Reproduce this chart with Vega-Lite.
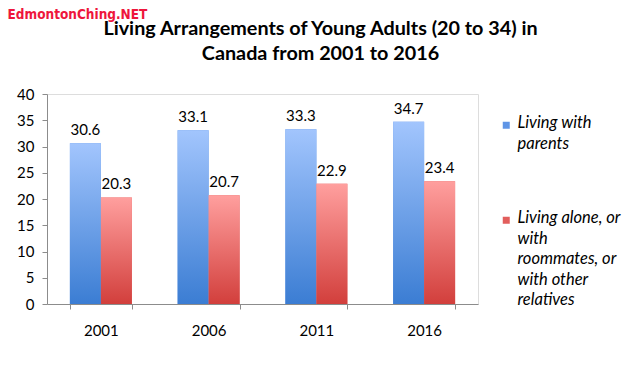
{
  "$schema": "https://vega.github.io/schema/vega-lite/v6.json",
  "width": 431,
  "height": 210,
  "autosize": {"type": "none"},
  "padding": {"left": 47, "top": 94, "right": 162, "bottom": 68},
  "background": "white",
  "title": {
    "text": ["Living Arrangements of Young Adults (20 to 34) in", "Canada from 2001 to 2016"],
    "font": "Lato",
    "fontSize": 19.8,
    "fontWeight": "bold",
    "color": "#000000",
    "anchor": "middle",
    "frame": "group",
    "dx": 58,
    "offset": -57,
    "lineHeight": 25
  },
  "data": {
    "values": [
      {"year": "2001", "series": "parents", "value": 30.6},
      {"year": "2001", "series": "alone", "value": 20.3},
      {"year": "2006", "series": "parents", "value": 33.1},
      {"year": "2006", "series": "alone", "value": 20.7},
      {"year": "2011", "series": "parents", "value": 33.3},
      {"year": "2011", "series": "alone", "value": 22.9},
      {"year": "2016", "series": "parents", "value": 34.7},
      {"year": "2016", "series": "alone", "value": 23.4}
    ]
  },
  "encoding": {
    "x": {
      "field": "year",
      "type": "nominal",
      "scale": {"paddingInner": 0.425, "paddingOuter": 0.2125},
      "axis": {
        "title": null,
        "labelAngle": 0,
        "tickBand": "extent",
        "tickSize": 5,
        "labelPadding": 14,
        "domainColor": "#8c8c8c",
        "tickColor": "#8c8c8c",
        "labelColor": "#000000",
        "labelFont": "Lato",
        "labelFontSize": 15
      }
    },
    "xOffset": {"field": "series", "type": "nominal", "sort": ["parents", "alone"], "scale": {"domain": ["parents", "alone"], "paddingInner": 0}},
    "y": {
      "field": "value",
      "type": "quantitative",
      "scale": {"domain": [0, 40]},
      "axis": {
        "values": [0, 5, 10, 15, 20, 25, 30, 35, 40],
        "grid": false,
        "tickSize": 5,
        "labelPadding": 8,
        "domainColor": "#8c8c8c",
        "tickColor": "#8c8c8c",
        "labelColor": "#000000",
        "labelFont": "Lato",
        "labelFontSize": 15,
        "title": "EdmontonChing.NET",
        "titleAngle": 0,
        "titleX": -40,
        "titleY": -76,
        "titleAlign": "left",
        "titleBaseline": "alphabetic",
        "titleColor": "#ee163c",
        "titleFont": "DejaVu Sans Condensed",
        "titleFontWeight": "bold",
        "titleFontSize": 13.5
      }
    }
  },
  "layer": [
    {
      "mark": {"type": "bar"},
      "encoding": {
        "color": {
          "field": "series",
          "type": "nominal",
          "scale": {"domain": ["parents", "alone"], "range": ["#5f95e6", "#e25e5c"]},
          "legend": {
            "title": null,
            "orient": "none",
            "legendX": 451,
            "legendY": 23,
            "padding": 0,
            "symbolType": "square",
            "symbolSize": 49,
            "symbolStrokeWidth": 0,
            "labelOffset": 3,
            "labelFont": "Lato",
            "labelFontStyle": "italic",
            "labelFontSize": 16.5,
            "labelColor": "#000000",
            "labelLimit": 200,
            "labelBaseline": "top",
            "rowPadding": 57,
            "labelExpr": "datum.value == 'parents' ? ['Living with', 'parents'] : ['Living alone, or', 'with', 'roommates, or', 'with other', 'relatives']",
            "encode": {
              "labels": {"update": {"lineHeight": {"value": 20.5}, "dy": {"value": -10}}}
            }
          }
        }
      }
    },
    {
      "transform": [{"filter": "datum.series == 'parents'"}],
      "mark": {
        "type": "bar",
        "color": {
          "gradient": "linear",
          "x1": 0, "y1": 0, "x2": 0, "y2": 1,
          "stops": [{"offset": 0, "color": "#a2c5fd"}, {"offset": 1, "color": "#3b7dd3"}]
        }
      }
    },
    {
      "transform": [{"filter": "datum.series == 'alone'"}],
      "mark": {
        "type": "bar",
        "color": {
          "gradient": "linear",
          "x1": 0, "y1": 0, "x2": 0, "y2": 1,
          "stops": [{"offset": 0, "color": "#ff9f9e"}, {"offset": 1, "color": "#d23f3c"}]
        }
      }
    },
    {
      "mark": {"type": "text", "baseline": "bottom", "dy": -5, "font": "Lato", "fontSize": 15, "color": "#000000"},
      "encoding": {"text": {"field": "value", "type": "quantitative", "format": ".1f"}}
    }
  ]
}
